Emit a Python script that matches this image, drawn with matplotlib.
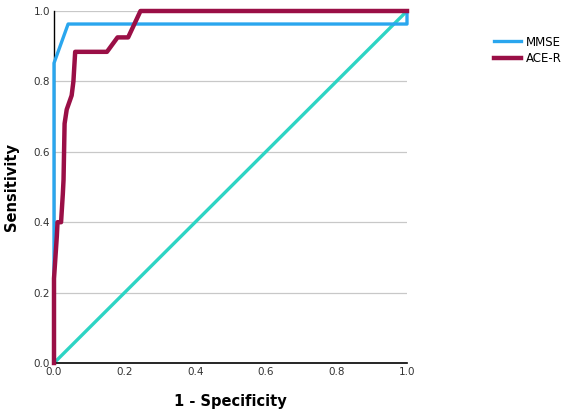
import matplotlib
matplotlib.use("Agg")
import matplotlib.pyplot as plt

mmse_x = [0.0, 0.0, 0.04, 1.0, 1.0]
mmse_y = [0.0, 0.852, 0.963, 0.963, 1.0]

ace_x = [0.0, 0.0, 0.008, 0.01, 0.02, 0.025, 0.027, 0.03, 0.036, 0.05, 0.055, 0.06, 0.15, 0.18, 0.21, 0.245, 1.0]
ace_y = [0.0, 0.24, 0.36, 0.40, 0.40, 0.48, 0.52, 0.68, 0.72, 0.76, 0.80, 0.884, 0.884, 0.925, 0.925, 1.0, 1.0]

ref_x = [0.0, 1.0]
ref_y = [0.0, 1.0]

ticks = [0.0, 0.2, 0.4, 0.6, 0.8, 1.0]
tick_labels = ["0.0", "0.2", "0.4", "0.6", "0.8", "1.0"]

fig = plt.figure(figsize=(5.67, 4.17), dpi=100)
ax = fig.add_axes([54/567, 1 - 363/417, (407-54)/567, (363-11)/417])

for t in ticks[1:]:
    ax.axhline(t, color="#c8c8c8", lw=0.9, zorder=0)

ax.plot(ref_x, ref_y, color="#2dd4c4", lw=2.4, solid_capstyle="butt", zorder=2, clip_on=False)
l1, = ax.plot(mmse_x, mmse_y, color="#2aa6ee", lw=2.4, label="MMSE", zorder=3, clip_on=False)
l2, = ax.plot(ace_x, ace_y, color="#9a0f46", lw=3.2, label="ACE-R", zorder=4, clip_on=False)

ax.set_xlim(0, 1)
ax.set_ylim(0, 1)
ax.set_xticks(ticks)
ax.set_xticklabels(tick_labels)
ax.set_yticks(ticks)
ax.set_yticklabels(tick_labels)
ax.tick_params(length=0, labelsize=7.5, colors="#333333", pad=3)
for s in ["top", "right"]:
    ax.spines[s].set_visible(False)
ax.spines["left"].set_color("black")
ax.spines["bottom"].set_color("black")
ax.spines["left"].set_linewidth(1.0)
ax.spines["bottom"].set_linewidth(1.2)

ax.set_xlabel("1 - Specificity", fontsize=10.5, fontweight="bold", labelpad=12)
ax.set_ylabel("Sensitivity", fontsize=10.5, fontweight="bold", labelpad=10)

fig.legend(handles=[l1, l2], loc="upper left", bbox_to_anchor=(483/567, 1 - 25/417),
           frameon=False, fontsize=8.5, handlelength=2.3, handletextpad=0.4,
           labelspacing=0.3)

fig.savefig("out.png", dpi=100)
